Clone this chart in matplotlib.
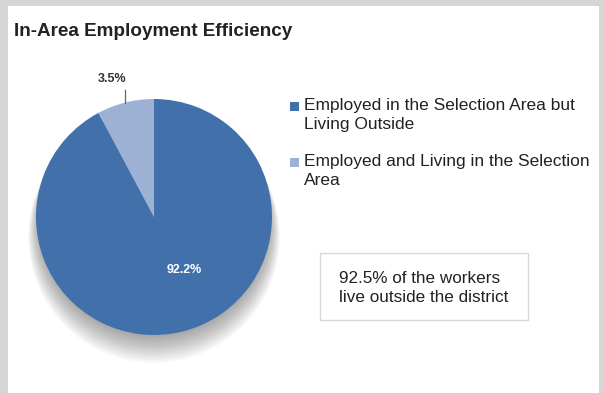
import matplotlib
matplotlib.use("Agg")
import matplotlib.pyplot as plt
import matplotlib.patches as mpatches
import numpy as np

# slice shares as drawn, and the labels printed on them
categories = ["Employed in the Selection Area but\nLiving Outside",
              "Employed and Living in the Selection\nArea"]
shares = [92.2, 7.8]
slice_labels = ["92.2%", "3.5%"]
note = "92.5% of the workers\nlive outside the district"
title = "In-Area Employment Efficiency"

colors = ["#4170ab", "#9db1d5"]
font = ["Liberation Sans", "DejaVu Sans"]

W, H = 603, 393
fig = plt.figure(figsize=(W / 100, H / 100), dpi=100)
fig.patch.set_facecolor("#d6d6d6")

# white panel
fig.patches.append(mpatches.Rectangle((8 / W, 0), (599 - 8) / W, (393 - 6) / H,
                                      transform=fig.transFigure, facecolor="white",
                                      edgecolor="none", zorder=-5))

fig.text(14 / W, 1 - 32 / H, title, fontsize=13.6, fontweight="bold",
         family=font, color="#222222", va="center", ha="left")

# pie axes, centre (154, 217) px, radius 118 px
cx, cy, r = 154, 217, 118
ax = fig.add_axes([(cx - r) / W, (H - cy - r) / H, 2 * r / W, 2 * r / H])
ax.set_zorder(5)
ax.set_facecolor("none")

# soft shadow under the pie
for k in range(20):
    ax.add_patch(mpatches.Circle((0.0, -0.02 - 0.008 * k), 0.97 + 0.005 * k,
                                 facecolor="#202020", alpha=0.022, edgecolor="none",
                                 zorder=0, clip_on=False))

wedges, _ = ax.pie(shares, colors=colors, startangle=90, counterclock=False,
                   radius=1.0, wedgeprops=dict(edgecolor="none"))
for w in wedges:
    w.set_zorder(2)
ax.set_xlim(-1, 1)
ax.set_ylim(-1, 1)
ax.set_aspect("equal")
ax.axis("off")

# 3.5% label with leader line
w = wedges[1]
mid = np.deg2rad((w.theta1 + w.theta2) / 2)
x0, y0 = np.cos(mid), np.sin(mid)
ax.plot([x0, x0], [y0, y0 + 0.11], color="#666666", lw=0.9, clip_on=False, zorder=3)
ax.text(x0 - 0.11, y0 + 0.2, slice_labels[1], fontsize=9, family=font,
        color="#333333", ha="center", va="center", fontweight="bold")

ax.text(0.26, -0.45, slice_labels[0], fontsize=9, family=font,
        color="white", ha="center", va="center", fontweight="bold", zorder=4)

# legend
leg_y = [107, 163]
for c, lab, y in zip(colors, categories, leg_y):
    fig.patches.append(mpatches.Rectangle((290 / W, 1 - (y + 4) / H), 9 / W, 9 / H,
                                          transform=fig.transFigure, facecolor=c,
                                          edgecolor="none"))
    fig.text(304 / W, 1 - (y - 9) / H, lab, fontsize=12.5, family=font,
             color="#222222", va="top", ha="left", linespacing=1.3)

# note box
fig.patches.append(mpatches.Rectangle((320 / W, 1 - 320 / H), 208 / W, 67 / H,
                                      transform=fig.transFigure, facecolor="white",
                                      edgecolor="#d8d8d8", lw=1))
fig.text(339 / W, 1 - 288 / H, note, fontsize=12.3, family=font,
         color="#222222", va="center", ha="left", linespacing=1.4)

fig.savefig("out.png", dpi=100)
